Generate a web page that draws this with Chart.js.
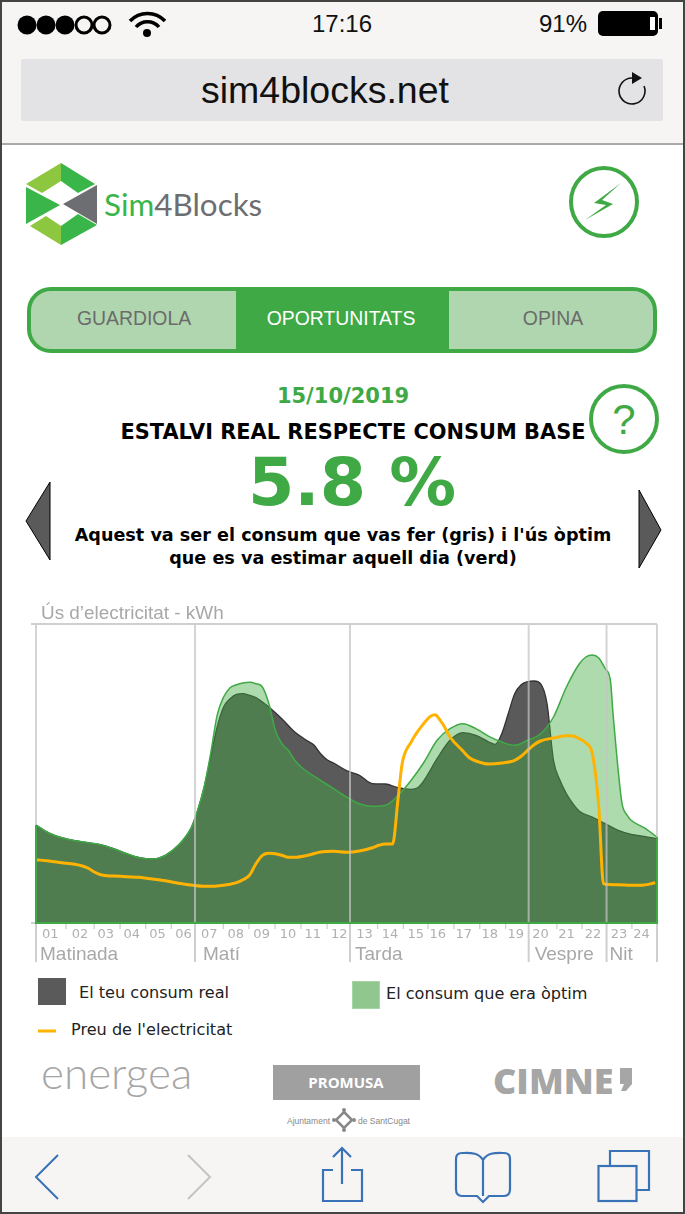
<!DOCTYPE html>
<html><head><meta charset="utf-8">
<script src="https://cdn.jsdelivr.net/npm/chart.js@4/dist/chart.umd.min.js"></script>
<style>
html,body{margin:0;padding:0;background:#fff;overflow:hidden}
#page{position:relative;width:685px;height:1214px;overflow:hidden}
#deco{position:absolute;left:0;top:0}
#wrap{position:absolute;left:0;top:600px;width:685px;height:370px}
text{font-family:"Liberation Sans",sans-serif}
.dv{font-family:"DejaVu Sans",sans-serif;font-weight:bold}
.lg{font-family:"DejaVu Sans",sans-serif;font-size:16.100px;fill:#222}
</style></head><body>
<div id="page">
<svg id="deco" width="685" height="1214" viewBox="0 0 685 1214">
<rect x="0" y="0" width="685" height="144" fill="#f6f5f3"/>
<rect x="0" y="1137" width="685" height="77" fill="#f6f5f3"/>
<line x1="0" y1="144" x2="685" y2="144" stroke="#aaa" stroke-width="2"/>
<circle cx="27" cy="25" r="9.500"/><circle cx="46" cy="25" r="9.500"/><circle cx="65" cy="25" r="9.500"/>
<circle cx="84" cy="25" r="8" fill="#f6f5f3" stroke="#000" stroke-width="3"/><circle cx="102" cy="25" r="8" fill="#f6f5f3" stroke="#000" stroke-width="3"/>
<g fill="none" stroke="#000" stroke-width="3.500"><path d="M130 21a24 24 0 0 1 35 0"/><path d="M136 27a15 15 0 0 1 23 0"/></g>
<circle cx="147" cy="33" r="4"/>
<text x="342" y="32" font-size="24" text-anchor="middle" fill="#111">17:16</text>
<text x="587" y="32" font-size="24" text-anchor="end" fill="#111">91%</text>
<rect x="598" y="11" width="60" height="25" rx="5"/><rect x="659" y="18" width="3" height="11"/><rect x="650" y="17" width="5" height="13" fill="#fff"/>
<rect x="21" y="59" width="642" height="62" rx="2" fill="#e3e3e5"/>
<text x="325" y="103" font-size="37.500" text-anchor="middle" fill="#111">sim4blocks.net</text>
<path d="M632 78A13 13 0 1 0 644 86" fill="none" stroke="#111" stroke-width="1.600"/><path d="M632 72L642 78 632 84z" fill="#111"/>

<g>
<path d="M61 163L26 184 42 193 61 181z" fill="#8dc63f"/>
<path d="M61 163L95 184 78 193 61 181z" fill="#39b54a"/>
<path d="M26 187L60 205 26 224z" fill="#39b54a"/>
<path d="M97 185V224L63 204z" fill="#6d6e71"/>
<path d="M30 226L46 216 61 226V245z" fill="#8dc63f"/>
<path d="M61 245V226L78 214 97 225z" fill="#39b54a"/>
</g>
<text x="104" y="216" font-size="31.400" style="font-family:Lato,sans-serif"><tspan fill="#39b54a">Sim</tspan><tspan fill="#6d6e71">4Blocks</tspan></text>
<ellipse cx="604" cy="202" rx="33" ry="34" fill="none" stroke="#3fa945" stroke-width="4"/>
<path d="M621 183L594 203 606 205 585 220 613 204 602 200z" fill="#3fa945"/>

<rect x="29" y="289" width="626" height="62" rx="22" fill="#b0d6af"/>
<rect x="236" y="289" width="213" height="62" fill="#3fa945"/>
<rect x="29" y="289" width="626" height="62" rx="22" fill="none" stroke="#3fa945" stroke-width="4"/>
<text x="134" y="325" font-size="19.400" text-anchor="middle" fill="#6b6b6b">GUARDIOLA</text>
<text x="341" y="325" font-size="19.400" text-anchor="middle" fill="#fff">OPORTUNITATS</text>
<text x="553" y="325" font-size="19.400" text-anchor="middle" fill="#6b6b6b">OPINA</text>

<text class="dv" x="343" y="403" font-size="21" text-anchor="middle" fill="#3fa945">15/10/2019</text>
<text class="dv" x="353" y="439" font-size="20.900" text-anchor="middle" fill="#000">ESTALVI REAL RESPECTE CONSUM BASE</text>
<text class="dv" x="352" y="505" font-size="66.700" text-anchor="middle" fill="#3fa945">5.8 %</text>
<text class="dv" x="343" y="541" font-size="17.600" text-anchor="middle" fill="#000">Aquest va ser el consum que vas fer (gris) i l'ús òptim</text>
<text class="dv" x="343" y="564" font-size="17.600" text-anchor="middle" fill="#000">que es va estimar aquell dia (verd)</text>
<circle cx="624" cy="419" r="33" fill="#fff" stroke="#3fa945" stroke-width="4"/>
<text x="624" y="434" font-size="42" text-anchor="middle" fill="#3fa945">?</text>
<path d="M50 482L26 521 50 560z" fill="#5a5a5a" stroke="#000"/>
<path d="M639 490L661 530 639 568z" fill="#5a5a5a" stroke="#000"/>

<rect x="38" y="978" width="28" height="27" fill="#5a5a5a"/>
<text class="lg" x="79" y="998">El teu consum real</text>
<rect x="352.500" y="981.500" width="27" height="27" fill="#8fc78f" stroke="#a5d6a5"/>
<text class="lg" x="386" y="999">El consum que era òptim</text>
<line x1="38" y1="1031" x2="56" y2="1031" stroke="#ffb300" stroke-width="3"/>
<text class="lg" x="71" y="1035">Preu de l'electricitat</text>

<text x="41" y="1089" font-size="44" fill="#a6a6a6" style="font-family:Lato,sans-serif;font-weight:300">energea</text>
<rect x="273" y="1065" width="147" height="35" fill="#a0a0a0"/>
<text x="346" y="1088" font-size="15" font-weight="bold" text-anchor="middle" fill="#fff" style="font-family:'Open Sans',sans-serif">PROMUSA</text>
<text x="330" y="1124" font-size="8.500" text-anchor="end" fill="#888">Ajuntament</text>
<path d="M344 1112l8 8-8 8-8-8z" fill="none" stroke="#888" stroke-width="2.500"/>
<circle cx="344" cy="1110" r="2" fill="#888"/><circle cx="344" cy="1130" r="2" fill="#888"/><circle cx="334" cy="1120" r="2" fill="#888"/><circle cx="354" cy="1120" r="2" fill="#888"/>
<text x="358" y="1124" font-size="8.500" fill="#888">de SantCugat</text>
<text x="493" y="1094" font-size="36" font-weight="800" fill="#a6a6a6" style="font-family:'Open Sans',sans-serif">CIMNE</text>
<path d="M620 1068h12v16l-6 7h-5l3-7h-4z" fill="#a6a6a6"/>

<path d="M58 1155L36 1177 58 1199" fill="none" stroke="#3a72b8" stroke-width="2"/>
<path d="M188 1155L210 1177 188 1199" fill="none" stroke="#c4c4c4" stroke-width="2"/>
<g fill="none" stroke="#3a72b8" stroke-width="2.200">
<path d="M333 1170H323V1201H362V1170H351"/><path d="M342 1148V1184M333 1157L342 1148 351 1157"/>
<path d="M483 1160C478 1152 470 1153 462 1153 458 1153 456 1155 456 1159V1189C456 1194 458 1196 462 1196H477L483 1202 489 1196H504C508 1196 510 1194 510 1189V1159C510 1155 508 1153 504 1153 496 1153 488 1152 483 1160V1196"/>
<rect x="598.500" y="1166" width="38" height="35"/>
<path d="M610 1166V1151H649V1190H637"/>
</g>
<rect x="1" y="1" width="683" height="1212" fill="none" stroke="#444" stroke-width="2"/>
</svg>
<div id="wrap"><canvas id="c"></canvas></div>
</div>
<script>
// Series (hours since 00:00, relative kWh level)
const optimalHours=[0,.5,1,1.5,2,2.5,3,3.5,4,4.5,5,5.5,6,6.25,6.5,6.75,7,7.25,7.5,7.75,8,8.25,8.5,8.75,9,9.25,9.5,9.75,10,10.25,10.5,11,11.5,12,12.5,13,13.5,14,14.5,15,15.5,16,16.5,17,17.5,18,18.5,19,19.5,20,20.5,21,21.25,21.5,21.75,22,22.2,22.3,22.45,22.65,22.85,23,23.5,24];
const optimalValues=[98,90,85.3,82.3,80.3,78.3,74.3,69.3,65.3,64,67.7,77.7,95.3,112.7,136,169.3,207.7,226,235.3,238.3,240,240.7,239.3,236,219.3,192.7,179.3,172.7,162.7,156,151,142.7,134.3,126,119.3,116.7,117.7,127.7,142.7,161,182.7,194.3,199.3,194.3,186.7,181,177.7,182.7,189.3,206,236,259.3,266,268,265,254.3,242.7,209.3,166,119.3,107.7,102.7,95.3,86];
const realHours=[0,.5,1,1.5,2,2.5,3,3.5,4,4.5,5,5.5,6,6.25,6.5,6.75,7,7.25,7.5,7.75,8,8.25,8.5,8.75,9,9.5,10,10.5,10.75,11,11.25,11.5,12,12.5,13,13.5,14,14.5,14.75,15,15.5,16,16.5,17,17.5,17.75,18,18.25,18.5,18.75,19,19.25,19.5,19.75,20,20.25,20.5,20.75,21,21.5,22,22.5,23,23.5,24];
const realValues=[98,90,85.3,82.3,80.3,78.3,74.3,69.3,65.3,64,67.7,77.7,95.3,112.7,136,166,196,216,224.3,228.7,229.3,227.7,225.3,221,216,204.3,191,182,177.7,169.3,163.3,160,152.3,147.7,139.3,139,135.3,133.7,135.3,142.7,164.3,182.7,190.3,187.7,181,178.7,189.3,209.3,229.3,238.3,241.3,242,239.3,219.3,162.7,142.7,129.3,119.3,111.7,106,99.3,92.7,88.7,86.7,84.3];
const priceHours=[0,.5,1,1.5,2,2.25,2.5,2.75,3,3.5,4,4.5,5,5.5,6,6.5,7,7.5,7.75,8,8.25,8.5,8.75,9,9.25,9.5,9.75,10,10.5,11,11.5,12,12.5,13,13.25,13.5,13.78,14,14.15,14.5,15,15.25,15.42,15.62,15.75,16,16.5,16.75,17,17.5,18,18.5,18.75,19,19.25,19.5,20,20.5,20.75,21,21.25,21.5,21.75,21.93,22.5,23,23.5,23.93];
const priceValues=[63.3,62,60.3,58.7,55,51,48.3,47.3,47,46.3,45.7,44,42.3,39.7,38,36.7,37,38.7,40.3,43.3,47.7,59.3,67.7,69.7,69.3,67.7,65.7,65.7,67.7,71,71.7,70.7,72,75.3,77.7,79,79,126,159.3,181,200,206.7,208.3,202.7,197.7,186,172,165.3,162,159,160,162.7,166.7,172.7,178.3,182,185,187.3,187,184.3,180,169.3,116,39.3,38.3,37.7,38,40.3];
const hourLabels=["01","02","03","04","05","06","07","08","09","10","11","12","13","14","15","16","17","18","19","20","21","22","23","24"];
const hourLabelAt=[.55,1.7,2.7,3.7,4.7,5.7,6.7,7.72,8.72,9.74,10.7,11.72,12.7,13.68,14.68,15.53,16.53,17.54,18.54,19.5,20.5,21.53,22.53,23.4];
const hourMarks=[1.16,2.25,3.25,4.24,5.23,7.24,8.23,9.24,10.24,11.25,13.2,14.2,15.15,16.15,17.15,18.15,20.13,21.1,23.03];
const dayParts=["Matinada","Matí","Tarda","Vespre","Nit"];
const partStarts=[0,6.145,12.135,19.04,22.05];
const partInset=[4,8,5,6,3];
const seriesNames=["El consum que era òptim","El teu consum real","Preu de l'electricitat"];
const axisTitle="Ús d’electricitat - kWh";
const zip=(a,b)=>a.map((x,i)=>({x,y:b[i]}));

const frame={id:'frame',
 afterDraw(ch){
  const {ctx,scales:{x,y}}=ch,top=y.getPixelForValue(299),base=y.getPixelForValue(0),end=x.getPixelForValue(24),start=x.getPixelForValue(0);
  ctx.save();
  // divider lines, running over the fills and down through the label band
  ctx.lineWidth=2;
  partStarts.concat([24]).forEach(h=>{
    const px=x.getPixelForValue(h);
    ctx.strokeStyle='rgba(195,195,195,.72)';
    ctx.beginPath();ctx.moveTo(px,top);ctx.lineTo(px,base);ctx.stroke();
    ctx.strokeStyle='#cfcfcf';
    ctx.beginPath();ctx.moveTo(px,base);ctx.lineTo(px,base+39);ctx.stroke();
  });
  ctx.strokeStyle='#cfcfcf';
  ctx.beginPath();ctx.moveTo(start-5,top);ctx.lineTo(end,top);ctx.stroke();
  ctx.beginPath();ctx.moveTo(start-5,base);ctx.lineTo(start,base);ctx.stroke();
  ctx.lineWidth=1.3;
  hourMarks.forEach(h=>{const px=x.getPixelForValue(h);ctx.beginPath();ctx.moveTo(px,base+1);ctx.lineTo(px,base+6);ctx.stroke();});
  // green closure of the optimal area
  ctx.strokeStyle='#3fa945';ctx.lineWidth=2;
  ctx.beginPath();ctx.moveTo(start,y.getPixelForValue(optimalValues[0]));ctx.lineTo(start,base);ctx.lineTo(end,base);ctx.lineTo(end,y.getPixelForValue(optimalValues[optimalValues.length-1]));ctx.stroke();
  // texts
  ctx.fillStyle='#a8a8a8';ctx.textAlign='left';ctx.textBaseline='alphabetic';
  ctx.font='18.9px "Liberation Sans"';
  ctx.fillText(axisTitle,start+5,top-5);
  ctx.font='19px "Liberation Sans"';
  dayParts.forEach((t,i)=>ctx.fillText(t,x.getPixelForValue(partStarts[i])+partInset[i],base+37));
  ctx.restore();
 }};

new Chart(document.getElementById('c'),{
 type:'line',
 data:{datasets:[
  {label:seriesNames[2],data:zip(priceHours,priceValues),borderColor:'#ffb300',borderWidth:3,pointRadius:0,cubicInterpolationMode:'monotone',fill:false,order:1},
  {label:seriesNames[0],data:zip(optimalHours,optimalValues),borderColor:'#3fa945',borderWidth:1.5,backgroundColor:'rgba(69,172,69,.436)',pointRadius:0,cubicInterpolationMode:'monotone',fill:'origin',order:2},
  {label:seriesNames[1],data:zip(realHours,realValues),borderColor:'#333',borderWidth:1.3,backgroundColor:'#5a5a5a',pointRadius:0,cubicInterpolationMode:'monotone',fill:'origin',order:3}
 ]},
 options:{
  responsive:true,maintainAspectRatio:false,animation:false,
  layout:{padding:{left:36,right:28,top:24,bottom:0}},
  plugins:{legend:{display:false},tooltip:{enabled:false},title:{display:false}},
  scales:{
   x:{type:'linear',min:0,max:24,
    afterBuildTicks(s){s.ticks=hourLabelAt.map(v=>({value:v}));},
    afterFit(s){s.height=47;},
    grid:{display:false,drawTicks:false},border:{display:false},
    ticks:{autoSkip:false,maxRotation:0,padding:4,color:'#b0b0b0',font:{family:'"DejaVu Sans"',size:13},
     callback(v,i){return hourLabels[i];}}},
   y:{display:false,min:0,max:299}
  }
 },
 plugins:[frame]
});
</script>
</body></html>
